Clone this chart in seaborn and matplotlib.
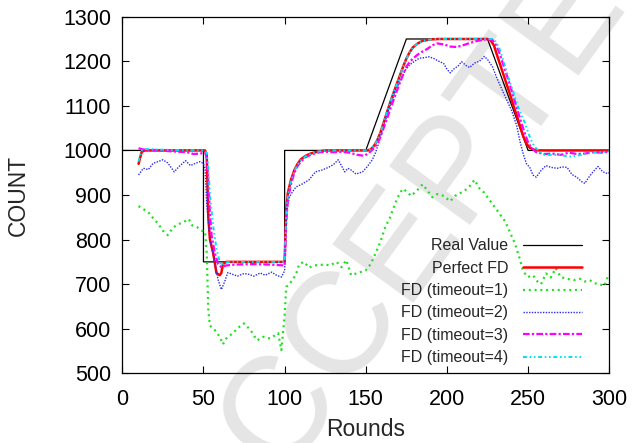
import matplotlib

matplotlib.use("Agg")  # headless
import matplotlib.pyplot as plt
import seaborn as sns

# --- data -------------------------------------------------------------------
# Real value: step / ramp profile of the monitored count.
real_rounds = [0, 50, 50, 100, 100, 150, 175, 225, 250, 300]
real_count = [1000, 1000, 750, 750, 1000, 1000, 1250, 1250, 1000, 1000]

# Perfect failure detector.
perfect_rounds = [10, 12, 14, 51, 52, 53, 54, 56, 58, 60, 61, 62, 64, 100, 101,
                  102, 104, 106, 108, 110, 113, 116, 120, 125, 151, 153, 155,
                  157, 159, 161, 163, 165, 167, 169, 171, 173, 175, 177, 179,
                  182, 185, 190, 195, 225, 227, 229, 231, 233, 235, 237, 239,
                  241, 243, 245, 247, 249, 251, 254, 257, 300]
perfect_count = [970, 997, 1000, 1000, 990, 850, 800, 770, 725, 720, 725, 745,
                 750, 750, 870, 905, 935, 956, 970, 980, 988, 993, 997, 1000,
                 1000, 1002, 1010, 1022, 1040, 1062, 1085, 1107, 1128, 1148,
                 1168, 1188, 1206, 1220, 1231, 1240, 1246, 1249, 1250, 1250,
                 1247, 1235, 1212, 1190, 1168, 1146, 1124, 1100, 1078, 1055,
                 1032, 1015, 1006, 1001, 1000, 1000]

# FD with timeout=1.
t1_rounds = [10, 14, 17, 19, 22, 25, 28, 31, 34, 37, 41, 43, 46, 49, 51, 52,
             53, 54, 57, 60, 62, 64, 68, 72, 75, 79, 83, 87, 91, 96, 98, 100,
             101, 103, 107, 109, 112, 115, 118, 121, 125, 128, 132, 135, 138,
             141, 145, 150, 153, 156, 159, 162, 165, 168, 171, 173, 176, 178,
             182, 185, 188, 191, 194, 198, 200, 202, 205, 208, 211, 214, 217,
             220, 223, 227, 230, 233, 236, 239, 242, 245, 247, 250, 253, 256,
             258, 261, 264, 267, 270, 274, 278, 282, 285, 288, 291, 294, 297,
             299, 300]
t1_count = [875, 866, 858, 848, 836, 820, 810, 826, 834, 838, 846, 832, 828,
            820, 818, 770, 640, 607, 597, 582, 565, 578, 590, 604, 612, 597,
            574, 582, 578, 590, 552, 630, 694, 700, 722, 745, 750, 737, 742,
            743, 744, 742, 750, 738, 754, 720, 725, 731, 745, 769, 795, 828,
            850, 880, 905, 914, 905, 898, 912, 924, 910, 895, 902, 898, 892,
            886, 898, 904, 910, 920, 934, 915, 905, 885, 870, 855, 840, 815,
            790, 755, 728, 716, 720, 705, 700, 724, 715, 736, 716, 712, 709,
            712, 706, 709, 702, 700, 696, 716, 718]

# FD with timeout=2.
t2_rounds = [10, 13, 16, 19, 22, 25, 28, 32, 35, 39, 42, 45, 48, 50, 51, 52,
             54, 57, 59, 61, 63, 65, 68, 71, 75, 78, 81, 85, 88, 92, 95, 98,
             100, 101, 103, 105, 107, 111, 115, 119, 123, 127, 130, 133, 135,
             137, 139, 141, 144, 148, 151, 154, 156, 158, 160, 162, 164, 166,
             168, 171, 174, 177, 180, 183, 186, 189, 192, 195, 198, 200, 202,
             204, 207, 209, 212, 214, 217, 220, 223, 225, 228, 231, 234, 237,
             240, 243, 245, 247, 249, 251, 253, 255, 258, 261, 264, 268, 271,
             274, 277, 280, 283, 285, 287, 290, 293, 296, 299, 300]
t2_count = [945, 960, 957, 971, 975, 979, 972, 952, 964, 977, 966, 971, 975,
            970, 960, 880, 800, 748, 710, 688, 705, 726, 722, 718, 724, 722,
            718, 725, 720, 727, 720, 716, 730, 860, 896, 908, 918, 925, 934,
            952, 956, 962, 968, 979, 966, 952, 960, 956, 947, 952, 964, 979,
            995, 1017, 1042, 1066, 1090, 1110, 1130, 1155, 1178, 1192, 1200,
            1207, 1208, 1210, 1206, 1200, 1195, 1182, 1174, 1182, 1190, 1199,
            1190, 1186, 1196, 1200, 1211, 1204, 1188, 1160, 1136, 1112, 1088,
            1055, 1020, 992, 970, 962, 945, 940, 955, 966, 962, 960, 963, 962,
            946, 940, 930, 926, 938, 952, 964, 952, 948, 950]

# FD with timeout=3.
t3_rounds = [10, 13, 20, 30, 40, 44, 48, 51, 52, 53, 54, 55, 57, 59, 61, 64,
             70, 80, 90, 100, 101, 102, 104, 106, 108, 110, 113, 116, 120, 125,
             130, 135, 140, 145, 149, 151, 153, 155, 157, 159, 161, 163, 165,
             167, 169, 171, 173, 175, 177, 179, 182, 185, 188, 191, 194, 198,
             202, 206, 210, 214, 218, 222, 225, 228, 230, 232, 234, 236, 238,
             240, 242, 244, 246, 248, 250, 252, 255, 260, 265, 270, 275, 280,
             285, 290, 295, 300]
t3_count = [1005, 1002, 1001, 998, 996, 992, 993, 995, 985, 930, 860, 810, 770,
            745, 738, 742, 744, 745, 744, 742, 840, 890, 925, 950, 965, 975,
            985, 990, 995, 997, 996, 997, 995, 990, 988, 992, 998, 1005, 1015,
            1030, 1050, 1070, 1092, 1112, 1132, 1152, 1170, 1188, 1198, 1206,
            1215, 1222, 1228, 1236, 1240, 1238, 1233, 1232, 1236, 1241, 1245,
            1248, 1250, 1248, 1238, 1222, 1200, 1178, 1156, 1132, 1108, 1084,
            1060, 1038, 1018, 1006, 996, 992, 993, 990, 995, 992, 993, 996,
            995, 997]

# FD with timeout=4.
t4_rounds = [10, 12, 14, 30, 50, 52, 53, 54, 56, 58, 60, 61, 63, 66, 100, 101,
             102, 104, 106, 108, 110, 113, 116, 120, 125, 151, 153, 155, 157,
             159, 161, 163, 165, 167, 169, 171, 173, 175, 177, 179, 182, 185,
             190, 195, 226, 228, 230, 232, 234, 236, 238, 240, 242, 244, 246,
             248, 250, 252, 254, 257, 260, 265, 270, 275, 280, 285, 290, 295,
             300]
t4_count = [975, 1000, 1003, 1001, 1000, 995, 960, 900, 830, 780, 750, 742,
            748, 750, 750, 860, 900, 932, 954, 968, 978, 987, 992, 997, 1000,
            1000, 1002, 1010, 1022, 1040, 1062, 1085, 1107, 1128, 1148, 1168,
            1188, 1206, 1220, 1231, 1240, 1246, 1249, 1250, 1250, 1250, 1244,
            1232, 1210, 1186, 1162, 1140, 1118, 1096, 1078, 1062, 1040, 1022,
            1008, 998, 990, 990, 990, 986, 988, 992, 995, 996, 998]

# --- styling ----------------------------------------------------------------
sns.set_style("ticks")
plt.rcParams["font.family"] = ["Liberation Sans", "DejaVu Sans"]
plt.rcParams.update({
    "xtick.direction": "in", "ytick.direction": "in",
    "xtick.top": True, "ytick.right": True,
    "xtick.major.size": 4.8, "ytick.major.size": 4.8,
    "xtick.major.width": 0.8, "ytick.major.width": 0.8,
    "axes.linewidth": 0.9, "axes.edgecolor": "black",
    "xtick.color": "black", "ytick.color": "black",
})

fig = plt.figure(figsize=(6.34, 4.43), dpi=100)
ax = fig.add_axes([0.1929, 0.1573, 0.7681, 0.8050])

series = [
    ("Real Value", real_rounds, real_count, "black", "-", 0.9),
    ("Perfect FD", perfect_rounds, perfect_count, "#ff0000", "-", 1.8),
    ("FD (timeout=1)", t1_rounds, t1_count, "#20e020", (0, (0.9, 1.7)), 1.6),
    ("FD (timeout=2)", t2_rounds, t2_count, "#2a2aee", (0, (1, 1)), 1.0),
    ("FD (timeout=3)", t3_rounds, t3_count, "#ff00ff", (0, (3, 1, 1, 1)), 1.6),
    ("FD (timeout=4)", t4_rounds, t4_count, "#00e0f0",
     (0, (2, 1.4, 0.8, 1.4, 0.8, 1.4)), 1.4),
]
for label, xs, ys, color, ls, lw in series:
    sns.lineplot(x=xs, y=ys, ax=ax, color=color, linestyle=ls, linewidth=lw,
                 label=label, estimator=None, sort=False)

# journal watermark, kept behind the curves
ax.text(0.677, 0.508, "ACCEPTED", transform=fig.transFigure, rotation=54,
        rotation_mode="anchor", ha="center", va="center", fontsize=104,
        color="#e5e5e5", zorder=0.5, clip_on=False)

ax.set_xlim(0, 300)
ax.set_ylim(500, 1300)
ax.set_xticks(range(0, 301, 50))
ax.set_yticks(range(500, 1301, 100))
ax.tick_params(axis="both", labelsize=15.5)
ax.tick_params(axis="y", pad=8)
ax.tick_params(axis="x", pad=11)
ax.set_xlabel("Rounds", fontsize=16.5, labelpad=6)
ax.set_ylabel("COUNT", fontsize=16.5, labelpad=24)

# markerfirst=False right-aligns each row, so labels end next to the samples
ax.legend(loc="lower right", bbox_to_anchor=(0.958, 0.005),
          borderaxespad=0, frameon=False, fontsize=11.5,
          markerfirst=False, handlelength=3.75, handletextpad=0.9,
          labelspacing=0.46)

fig.savefig("out.png", dpi=100)
plt.close(fig)
